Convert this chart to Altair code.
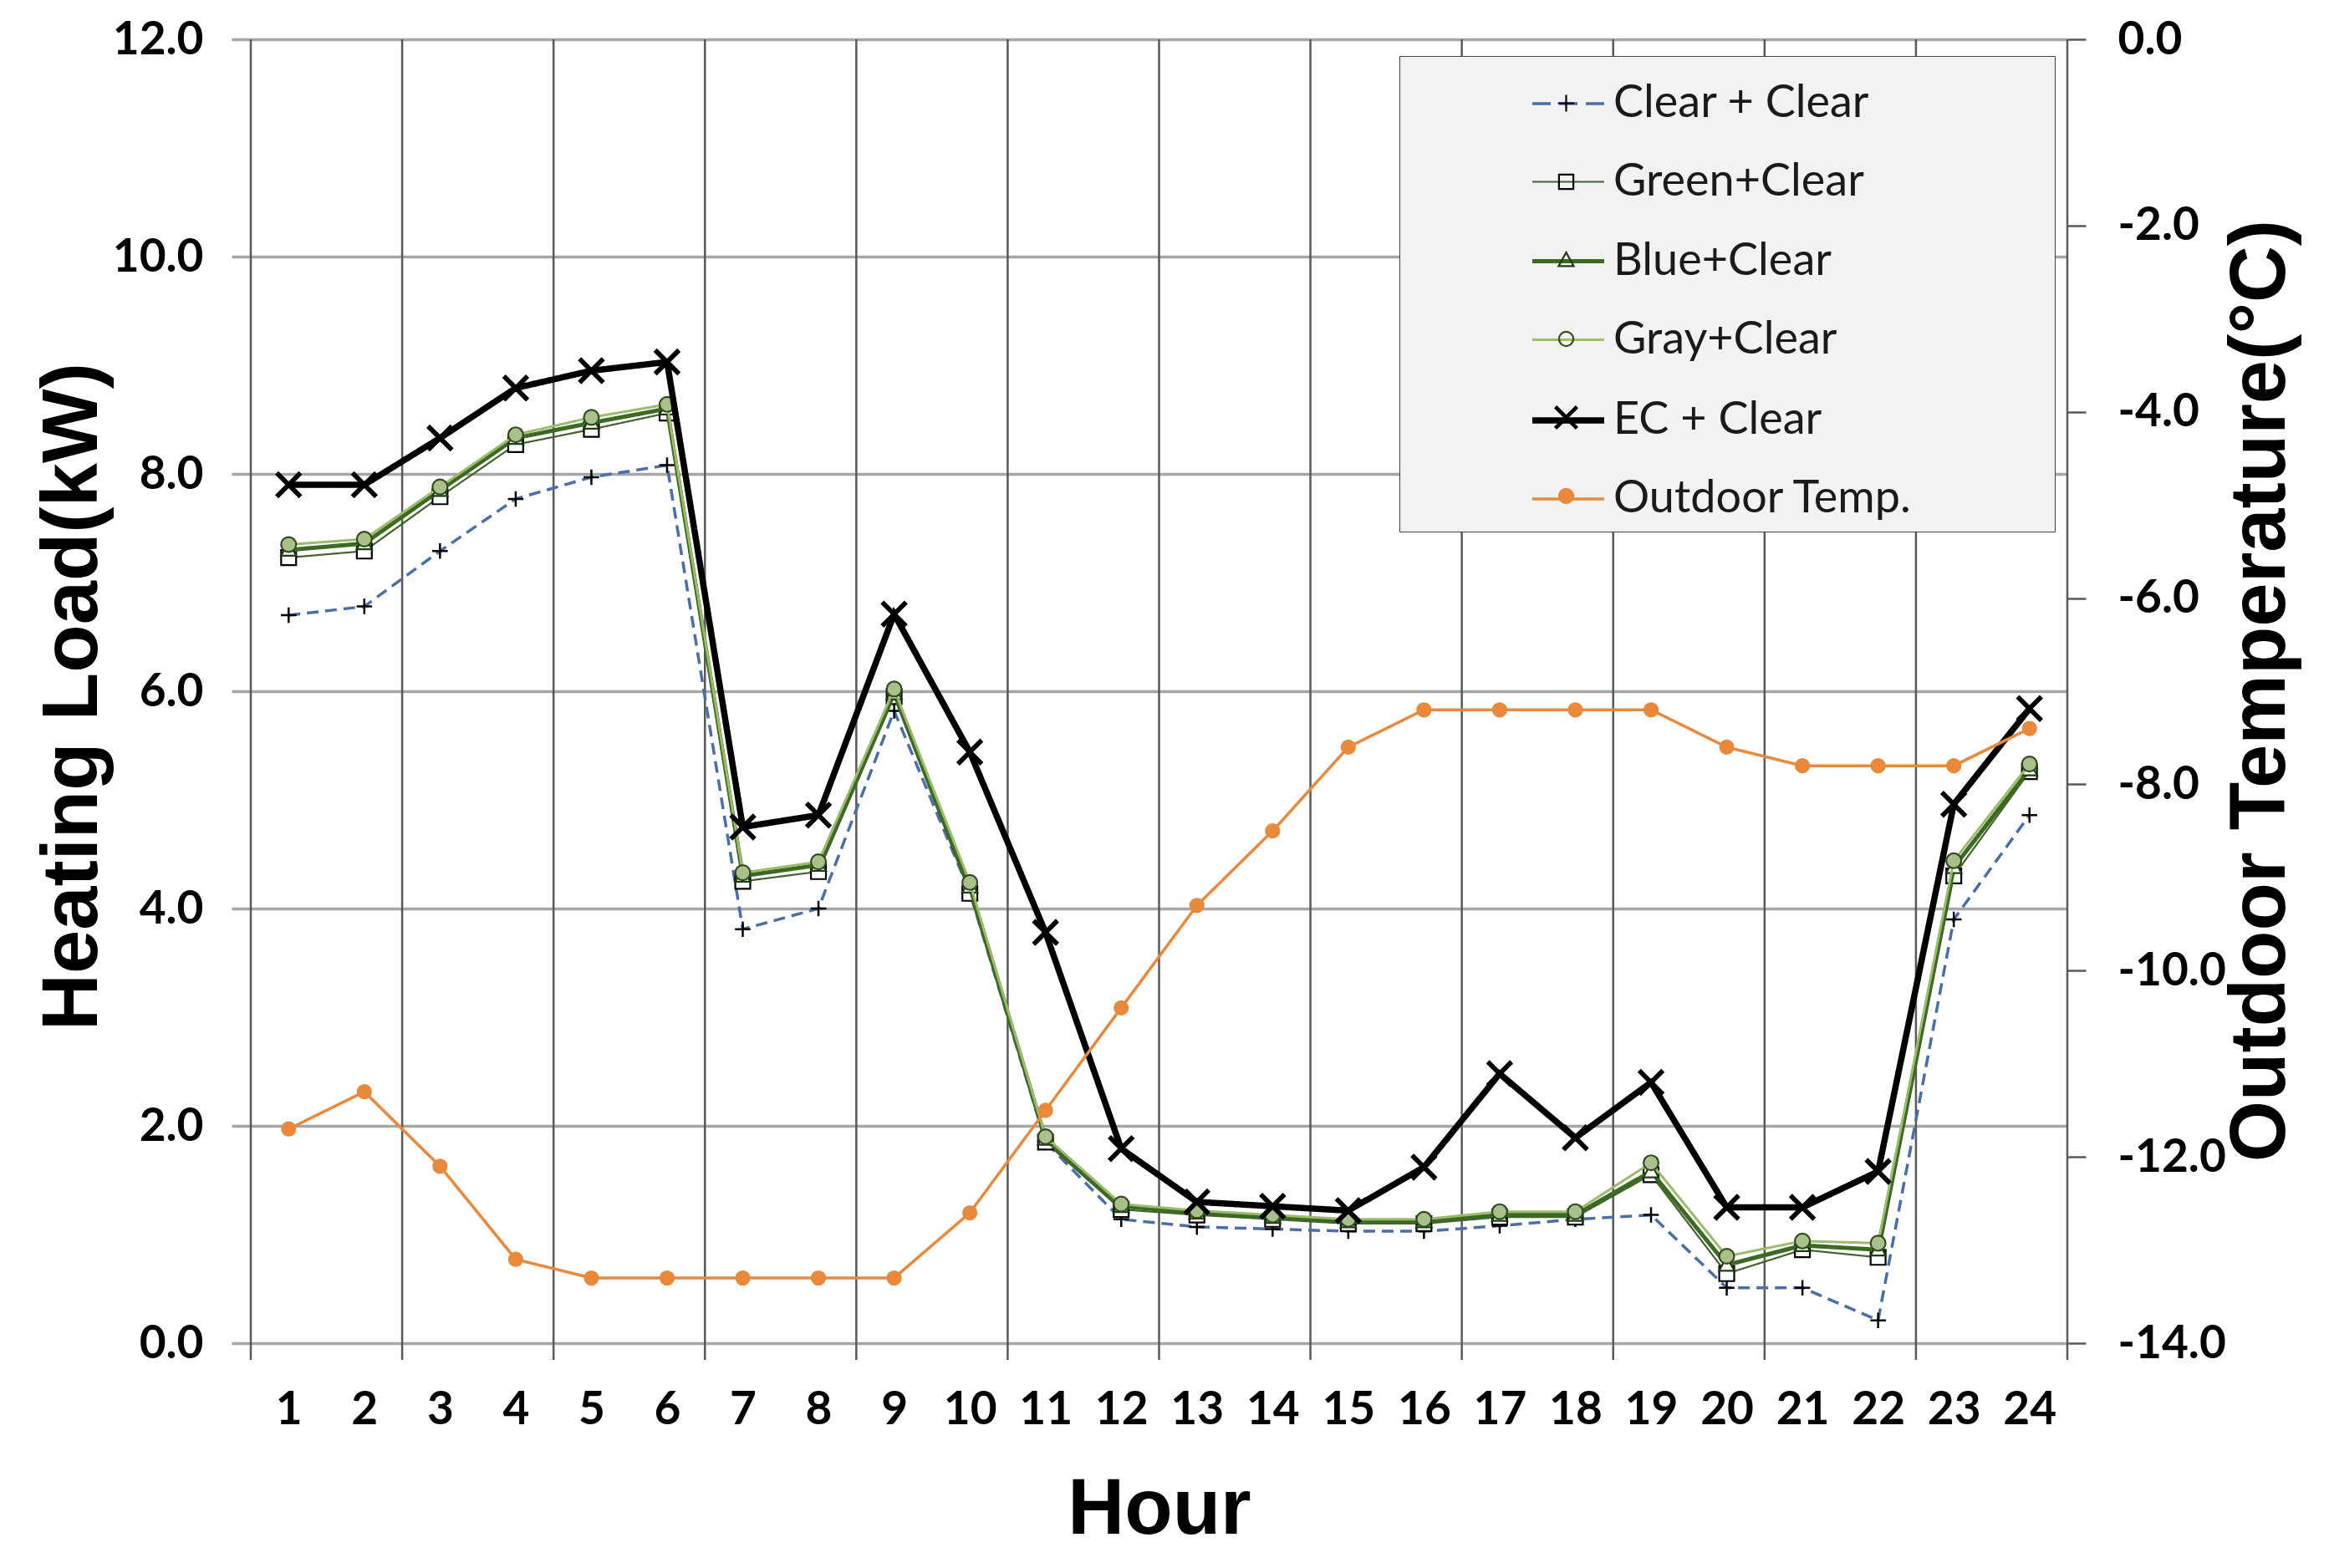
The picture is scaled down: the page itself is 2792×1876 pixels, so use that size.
import altair as alt
import pandas as pd

# ---------------- data ----------------
hours = list(range(1, 25))
clear_clear = [6.70, 6.78, 7.29, 7.77, 7.97, 8.08, 3.81, 4.00, 5.82, 4.15, 1.85, 1.14,
               1.07, 1.05, 1.03, 1.03, 1.08, 1.14, 1.18, 0.51, 0.51, 0.21, 3.90, 4.86]
green_clear = [7.23, 7.29, 7.79, 8.27, 8.41, 8.56, 4.25, 4.34, 5.95, 4.14, 1.85, 1.23,
               1.18, 1.14, 1.10, 1.10, 1.16, 1.16, 1.55, 0.64, 0.86, 0.79, 4.30, 5.26]
blue_clear = [7.30, 7.36, 7.85, 8.33, 8.47, 8.60, 4.30, 4.40, 5.98, 4.20, 1.88, 1.26,
              1.20, 1.16, 1.12, 1.12, 1.18, 1.18, 1.58, 0.72, 0.90, 0.86, 4.38, 5.28]
gray_clear = [7.35, 7.40, 7.88, 8.36, 8.52, 8.64, 4.33, 4.43, 6.02, 4.24, 1.90, 1.28,
              1.22, 1.18, 1.14, 1.14, 1.21, 1.21, 1.66, 0.80, 0.94, 0.92, 4.44, 5.33]
ec_clear = [7.90, 7.90, 8.33, 8.79, 8.95, 9.03, 4.75, 4.86, 6.71, 5.44, 3.78, 1.79,
            1.30, 1.26, 1.22, 1.62, 2.48, 1.89, 2.40, 1.25, 1.25, 1.58, 4.96, 5.84]
outdoor_temp = [-11.7, -11.3, -12.1, -13.1, -13.3, -13.3, -13.3, -13.3, -13.3, -12.6, -11.5, -10.4,
                -9.3, -8.5, -7.6, -7.2, -7.2, -7.2, -7.2, -7.6, -7.8, -7.8, -7.8, -7.4]

series_names = ["Clear + Clear", "Green+Clear", "Blue+Clear", "Gray+Clear", "EC + Clear", "Outdoor Temp."]
marker_keys = ["m1", "m2", "m3", "m4", "m5", "m6"]  # keys of the marker overlay legend (labels hidden)
load_series = [clear_clear, green_clear, blue_clear, gray_clear, ec_clear]
grid_hours = [0.5, 2.5, 4.5, 6.5, 8.5, 10.5, 12.5, 14.5, 16.5, 18.5, 20.5, 22.5, 24.5]
load_ticks = [0, 2, 4, 6, 8, 10, 12]
temp_ticks = [-14, -12, -10, -8, -6, -4, -2, 0]

# ---------------- styles ----------------
line_colors = ["#4a6fa8", "#46602f", "#3b6b22", "#9dbb6c", "#000000", "#e8893b"]
line_widths = [3.5, 2.2, 5, 3, 7.5, 3.5]
line_dashes = [[14, 8], [1, 0], [1, 0], [1, 0], [1, 0], [1, 0]]
legend_dashes = [[22, 10], [1, 0], [1, 0], [1, 0], [1, 0], [1, 0]]

marker_paths = [
    "M-0.23,0H0.23M0,-0.23V0.23",
    "M-0.2,-0.2H0.2V0.2H-0.2Z",
    "M0,-0.22L0.21,0.16H-0.21Z",
    "M-0.2,0A0.2,0.2 0 1,0 0.2,0A0.2,0.2 0 1,0 -0.2,0Z",
    "M-0.3,-0.3L0.3,0.3M-0.28,-0.32L0.32,0.28M-0.32,-0.28L0.28,0.32"
    "M-0.3,0.3L0.3,-0.3M-0.32,0.28L0.28,-0.32M-0.28,0.32L0.32,-0.28",
    "M-0.2,0A0.2,0.2 0 1,0 0.2,0A0.2,0.2 0 1,0 -0.2,0Z",
]
marker_strokes = ["#000000", "#000000", "#1e3a10", "#2f4a1f", "#000000", "#e8893b"]
marker_fills = ["transparent", "#ffffff", "#ffffff", "#a9c08a", "transparent", "#e8893b"]
legend_marker_fills = ["transparent", "transparent", "transparent", "transparent", "transparent", "#e8893b"]
marker_sizes = [6500, 8000, 7500, 8000, 9000, 7000]
marker_sw = [2.5, 2.2, 2.2, 2.2, 3, 1.5]

TICK_FONT = "Lato"
TITLE_FONT = "Liberation Sans"

legend_common = dict(
    title="\u00a0", titleOrient="right", titlePadding=158, titleFontSize=54, titleFont=TICK_FONT,
    orient="none", legendX=1374, legendY=20, padding=12, symbolOffset=143,
    symbolSize=7396, rowPadding=22, labelFont=TICK_FONT, labelFontSize=54,
    labelOffset=7, labelLimit=1000, symbolOpacity=1,
)

legend_line = alt.Legend(
    **legend_common, labelColor="#1a1a1a", fillColor="#f2f2f2", strokeColor="#404040",
    symbolType="M-1,0H1", zindex=1,
)
legend_marker = alt.Legend(
    **legend_common, labelOpacity=0, labelExpr="'\u00a0'", symbolStrokeWidth=2.2, zindex=2,
)

x_enc = alt.X(
    "hour:Q",
    scale=alt.Scale(domain=[0.5, 24.5], nice=False, zero=False),
    axis=alt.Axis(
        values=hours, format="d", grid=False, domain=False, ticks=False, tickSize=0,
        labelFont=TICK_FONT, labelFontSize=55, labelFontWeight="bold", labelColor="#000000",
        labelPadding=96, labelBaseline="alphabetic", labelOverlap=False, labelFlush=False,
        title="Hour", titleFont=TITLE_FONT, titleFontSize=94, titleFontWeight="bold", titleColor="#000000",
        titleX=1086.5, titleY=227, titleBaseline="alphabetic", titleAlign="center",
    ),
)

y_left = alt.Y(
    "load:Q",
    scale=alt.Scale(domain=[0, 12], nice=False, zero=False),
    axis=alt.Axis(
        values=load_ticks, format=".1f", grid=True, gridColor="#a6a6a6", gridWidth=3.5,
        domain=False, ticks=True, tickSize=23, tickColor="#a6a6a6", tickWidth=3.5,
        labelFont=TICK_FONT, labelFontSize=55, labelFontWeight="bold", labelColor="#000000",
        labelPadding=34,
        title="Heating Load(kW)", titleFont=TITLE_FONT, titleFontSize=94, titleFontWeight="bold",
        titleColor="#000000", titleAngle=270, titleX=-213, titleY=786,
        titleBaseline="middle", titleAlign="center",
    ),
)

y_right = alt.Y(
    "temp:Q",
    scale=alt.Scale(domain=[-14, 0], nice=False, zero=False),
    axis=alt.Axis(
        orient="right", values=temp_ticks,
        labelExpr="(datum.value < 0 ? '-' : '') + format(abs(datum.value), '.1f')",
        grid=False, domain=False, ticks=True, tickSize=22, tickColor="#595959", tickWidth=2.5,
        labelFont=TICK_FONT, labelFontSize=55, labelFontWeight="bold", labelColor="#000000",
        labelPadding=38, labelAlign="left",
        title="Outdoor Temperature(°C)", titleFont=TITLE_FONT, titleFontSize=94, titleFontWeight="bold",
        titleColor="#000000", titleAngle=270, titleX=231, titleY=779,
        titleBaseline="middle", titleAlign="center",
    ),
)

grid_df = pd.DataFrame({"hour": grid_hours})
grid_rule = alt.Chart(grid_df).mark_rule(color="#595959", strokeWidth=2.5).encode(
    x=x_enc, y=alt.value(0), y2=alt.value(1580)
)

left_layers = [grid_rule]
for i, name in enumerate(series_names[:5]):
    d = pd.DataFrame({"hour": hours, "load": load_series[i]})
    left_layers.append(
        alt.Chart(d).mark_line(color=line_colors[i], strokeWidth=line_widths[i],
                               strokeDash=line_dashes[i], opacity=1)
        .encode(x=x_enc, y=y_left)
    )
    left_layers.append(
        alt.Chart(d).mark_point(shape=marker_paths[i], size=marker_sizes[i], stroke=marker_strokes[i],
                                fill=marker_fills[i], strokeWidth=marker_sw[i], opacity=1,
                                fillOpacity=1, filled=False)
        .encode(x=x_enc, y=y_left)
    )

# legend-only layers: placed outside the scale domains and clipped, so only their legends show
legend_df = pd.DataFrame({"series": series_names, "series2": marker_keys,
                          "hour": [-100] * 6, "load": [-100] * 6})
legend_a = alt.Chart(legend_df).mark_line(clip=True, opacity=1).encode(
    x=x_enc, y=y_left,
    color=alt.Color("series:N", scale=alt.Scale(domain=series_names, range=line_colors), legend=legend_line),
    strokeWidth=alt.StrokeWidth("series:N", scale=alt.Scale(type="ordinal", domain=series_names, range=line_widths),
                                legend=legend_line),
    strokeDash=alt.StrokeDash("series:N", scale=alt.Scale(domain=series_names, range=legend_dashes),
                              legend=legend_line),
)
legend_b = alt.Chart(legend_df).mark_point(clip=True, filled=False, size=7396, opacity=1).encode(
    x=x_enc, y=y_left,
    stroke=alt.Stroke("series2:N", scale=alt.Scale(domain=marker_keys, range=marker_strokes), legend=legend_marker),
    fill=alt.Fill("series2:N", scale=alt.Scale(domain=marker_keys, range=legend_marker_fills), legend=legend_marker),
    shape=alt.Shape("series2:N", scale=alt.Scale(domain=marker_keys, range=marker_paths), legend=legend_marker),
)

left_group = alt.layer(*left_layers, legend_a, legend_b)

td = pd.DataFrame({"hour": hours, "temp": outdoor_temp})
right_group = alt.layer(
    alt.Chart(td).mark_line(color=line_colors[5], strokeWidth=line_widths[5], opacity=1)
    .encode(x=x_enc, y=y_right),
    alt.Chart(td).mark_point(shape=marker_paths[5], size=marker_sizes[5], stroke=marker_strokes[5],
                             fill=marker_fills[5], strokeWidth=marker_sw[5], opacity=1,
                             fillOpacity=1, filled=False)
    .encode(x=x_enc, y=y_right),
)

chart = (
    alt.layer(left_group, right_group)
    .resolve_scale(y="independent")
    .properties(
        width=2173, height=1560,
        padding={"left": 292, "top": 39, "right": 311, "bottom": 261},
        autosize=alt.AutoSizeParams(type="none"),
        background="#ffffff",
    )
    .configure_view(stroke=None)
)

chart.save("out.html", embed_options={"renderer": "svg", "actions": False})
